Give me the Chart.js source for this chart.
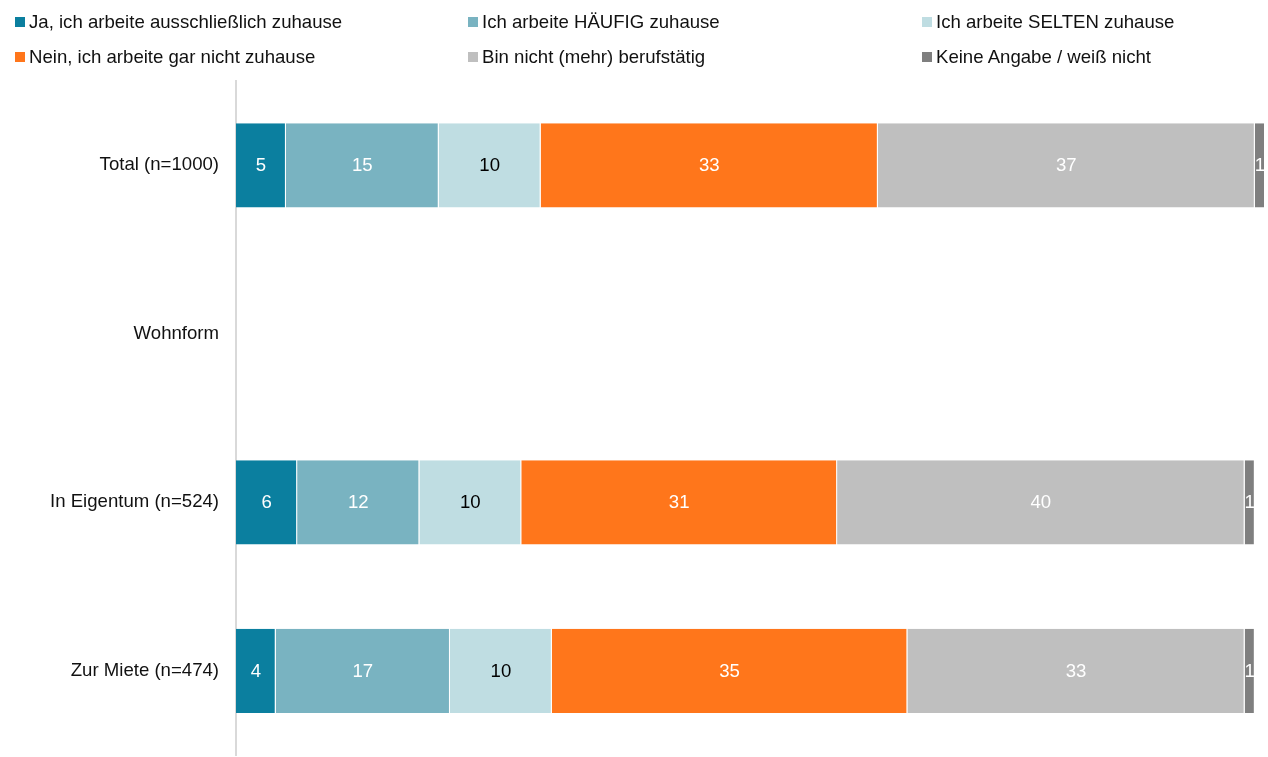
<!DOCTYPE html>
<html>
<head>
<meta charset="utf-8">
<script src="https://cdn.jsdelivr.net/npm/chart.js@4"></script>
<style>
  html, body { margin: 0; padding: 0; background: #fff; overflow: hidden; }
  #wrap { position: relative; width: 1268px; height: 757px; }
  #legend { position: absolute; left: 0; top: 0; width: 1268px; height: 80px; font-family: "Liberation Sans", Arial, sans-serif; font-size: 18.6px; color: #111111; }
  .li { position: absolute; white-space: nowrap; line-height: 20px; }
  .li span.m { position: absolute; left: -14px; top: 5px; width: 10px; height: 10px; }
  canvas { position: absolute; left: 0; top: 0; }
</style>
</head>
<body>
<div id="wrap">
  <canvas id="c" width="1268" height="757"></canvas>
  <div id="legend"></div>
</div>
<script>
const categories = ["Total (n=1000)", "Wohnform", "In Eigentum (n=524)", "Zur Miete (n=474)"];
const seriesNames = [
  "Ja, ich arbeite ausschließlich zuhause",
  "Ich arbeite HÄUFIG zuhause",
  "Ich arbeite SELTEN zuhause",
  "Nein, ich arbeite gar nicht zuhause",
  "Bin nicht (mehr) berufstätig",
  "Keine Angabe / weiß nicht"
];
const jaAusschliesslich = [4.9, null, 6.0, 3.9];
const haeufig          = [15.0, null, 12.0, 17.1];
const selten           = [10.0, null, 10.0, 10.0];
const garNicht         = [33.1, null, 31.0, 34.9];
const nichtBerufstaetig= [37.0, null, 40.0, 33.1];
const keineAngabe      = [1.0, null, 1.0, 1.0];
const seriesValues = [jaAusschliesslich, haeufig, selten, garNicht, nichtBerufstaetig, keineAngabe];
const colors = ["#0b7f9f", "#79b3c1", "#bfdde2", "#ff761b", "#bfbfbf", "#7f7f7f"];
const labelColors = ["#ffffff", "#ffffff", "#000000", "#ffffff", "#ffffff", "#ffffff"];

// HTML legend (3 columns x 2 rows)
const legendPos = [
  {x: 29, y: 12}, {x: 482, y: 12}, {x: 936, y: 12},
  {x: 29, y: 47}, {x: 482, y: 47}, {x: 936, y: 47}
];
const legend = document.getElementById('legend');
seriesNames.forEach((n, i) => {
  const d = document.createElement('div');
  d.className = 'li';
  d.style.left = legendPos[i].x + 'px';
  d.style.top = legendPos[i].y + 'px';
  const m = document.createElement('span');
  m.className = 'm';
  m.style.background = colors[i];
  d.appendChild(m);
  d.appendChild(document.createTextNode(n));
  legend.appendChild(d);
});

const FONT = '"Liberation Sans", Arial, sans-serif';
const valueLabels = {
  id: 'valueLabels',
  afterDatasetsDraw(chart) {
    const ctx = chart.ctx;
    ctx.save();
    ctx.font = '18.6px ' + FONT;
    ctx.textAlign = 'center';
    ctx.textBaseline = 'middle';
    chart.data.datasets.forEach((ds, di) => {
      const meta = chart.getDatasetMeta(di);
      meta.data.forEach((el, i) => {
        const v = ds.data[i];
        if (v === null || v === undefined) return;
        const cx = (el.x + el.base) / 2;
        ctx.fillStyle = labelColors[di];
        ctx.fillText(String(Math.round(v)), cx, el.y + 1);
      });
    });
    ctx.restore();
  }
};

new Chart(document.getElementById('c'), {
  type: 'bar',
  data: {
    labels: categories,
    datasets: seriesValues.map((vals, i) => ({
      label: seriesNames[i],
      data: vals,
      backgroundColor: colors[i],
      borderColor: '#ffffff',
      borderWidth: {top: 0, bottom: 0, left: 0, right: 1},
      borderSkipped: false,
      barPercentage: 0.5,
      categoryPercentage: 1.0
    }))
  },
  options: {
    indexAxis: 'y',
    responsive: false,
    animation: false,
    layout: { padding: { top: 81, bottom: 2, left: 0, right: 3 } },
    plugins: { legend: { display: false }, tooltip: { enabled: false } },
    scales: {
      x: { stacked: true, min: 0, max: 101, display: false },
      y: {
        stacked: true,
        grid: { display: false, drawTicks: false },
        border: { display: true, color: '#d9d9d9', width: 2 },
        ticks: { color: '#111111', padding: 17, font: { family: FONT, size: 18.6 } },
        afterFit(scale) { scale.width = 236; scale.paddingTop = 0; scale.paddingBottom = 0; }
      }
    }
  },
  plugins: [valueLabels]
});
</script>
</body>
</html>
